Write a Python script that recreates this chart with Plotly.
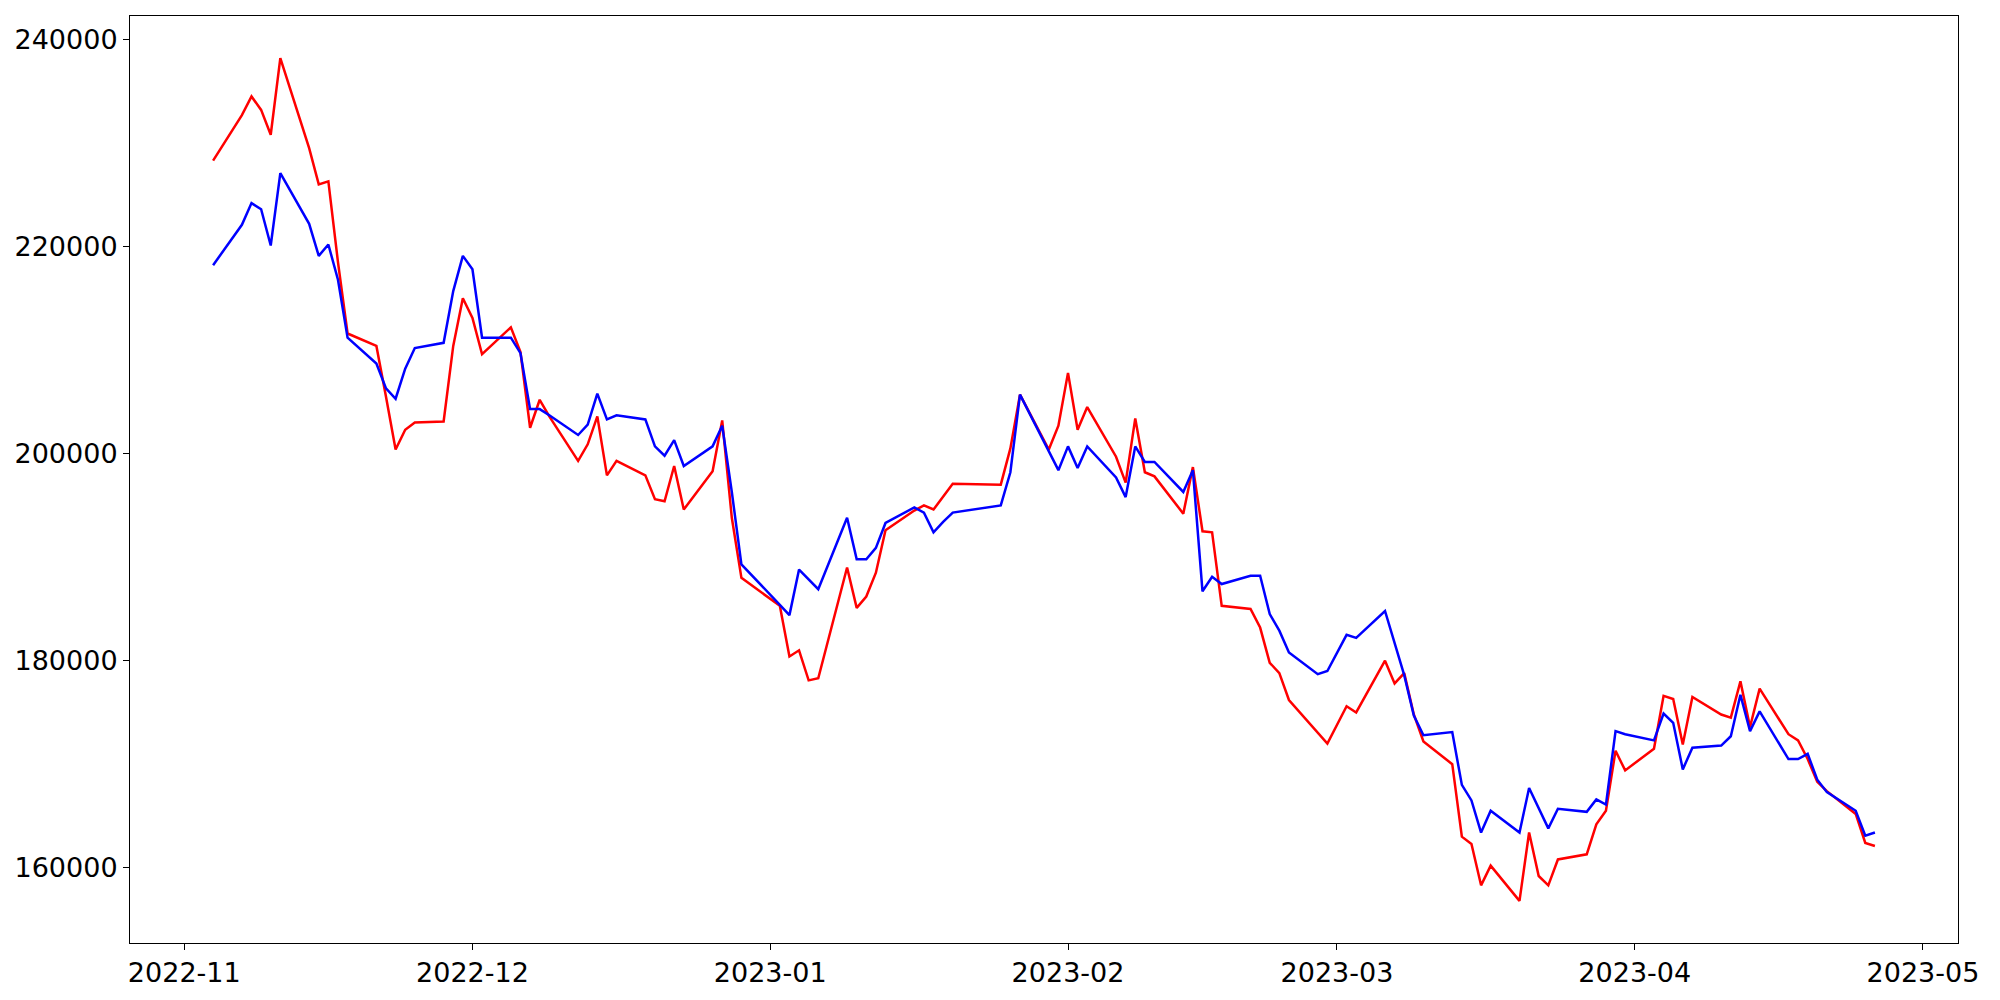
import plotly.graph_objects as go
import pandas as pd

# trading days (weekends / holidays skipped)
dates = [
    "2022-11-04", "2022-11-07", "2022-11-08", "2022-11-09", "2022-11-10", "2022-11-11",
    "2022-11-14", "2022-11-15", "2022-11-16", "2022-11-17", "2022-11-18",
    "2022-11-21", "2022-11-22", "2022-11-23", "2022-11-24", "2022-11-25",
    "2022-11-28", "2022-11-29", "2022-11-30", "2022-12-01", "2022-12-02",
    "2022-12-05", "2022-12-06", "2022-12-07", "2022-12-08", "2022-12-09",
    "2022-12-12", "2022-12-13", "2022-12-14", "2022-12-15", "2022-12-16",
    "2022-12-19", "2022-12-20", "2022-12-21", "2022-12-22", "2022-12-23",
    "2022-12-26", "2022-12-27", "2022-12-28", "2022-12-29",
    "2023-01-02", "2023-01-03", "2023-01-04", "2023-01-05", "2023-01-06",
    "2023-01-09", "2023-01-10", "2023-01-11", "2023-01-12", "2023-01-13",
    "2023-01-16", "2023-01-17", "2023-01-18", "2023-01-19", "2023-01-20",
    "2023-01-25", "2023-01-26", "2023-01-27",
    "2023-01-30", "2023-01-31", "2023-02-01", "2023-02-02", "2023-02-03",
    "2023-02-06", "2023-02-07", "2023-02-08", "2023-02-09", "2023-02-10",
    "2023-02-13", "2023-02-14", "2023-02-15", "2023-02-16", "2023-02-17",
    "2023-02-20", "2023-02-21", "2023-02-22", "2023-02-23", "2023-02-24",
    "2023-02-27", "2023-02-28", "2023-03-02", "2023-03-03",
    "2023-03-06", "2023-03-07", "2023-03-08", "2023-03-09", "2023-03-10",
    "2023-03-13", "2023-03-14", "2023-03-15", "2023-03-16", "2023-03-17",
    "2023-03-20", "2023-03-21", "2023-03-22", "2023-03-23", "2023-03-24",
    "2023-03-27", "2023-03-28", "2023-03-29", "2023-03-30", "2023-03-31",
    "2023-04-03", "2023-04-04", "2023-04-05", "2023-04-06", "2023-04-07",
    "2023-04-10", "2023-04-11", "2023-04-12", "2023-04-13", "2023-04-14",
    "2023-04-17", "2023-04-18", "2023-04-19", "2023-04-20", "2023-04-21",
    "2023-04-24", "2023-04-25", "2023-04-26",
]

red_values = [
    228300, 232700, 234500, 233200, 230800, 238200,
    229500, 226000, 226300, 218500, 211600,
    210400, 205500, 200400, 202300, 203000,
    203100, 210400, 215000, 213100, 209600,
    212200, 209800, 202500, 205200, 203600,
    199300, 200900, 203600, 197900, 199300,
    197900, 195600, 195400, 198800, 194600,
    198300, 203200, 193800, 188000,
    185300, 180400, 181000, 178100, 178300,
    189000, 185100, 186200, 188500, 192600,
    194500, 195000, 194600, 195900, 197100,
    197000, 200500, 205700,
    200400, 202700, 207800, 202300, 204500,
    199700, 197200, 203400, 198200, 197800,
    194200, 198700, 192500, 192400, 185300,
    185000, 183200, 179800, 178800, 176200,
    173000, 172000, 175600, 175000,
    180000, 177800, 178800, 174800, 172200,
    170000, 163000, 162300, 158300, 160200,
    156800, 163400, 159200, 158300, 160800,
    161300, 164200, 165500, 171300, 169400,
    171500, 176600, 176300, 171900, 176500,
    174800, 174500, 178000, 173600, 177300,
    172900, 172300, 170500, 168300, 167400,
    165200, 162400, 162100,
]

blue_values = [
    218200, 222100, 224200, 223600, 220100, 227100,
    222200, 219100, 220200, 216800, 211200,
    208700, 206300, 205300, 208200, 210200,
    210700, 215700, 219100, 217800, 211200,
    211200, 209700, 204300, 204300, 203700,
    201800, 202800, 205800, 203300, 203700,
    203300, 200700, 199800, 201300, 198800,
    200700, 202700, 196300, 189300,
    185400, 184400, 188800, 187800, 186900,
    193800, 189800, 189800, 190900, 193300,
    194800, 194300, 192400, 193400, 194300,
    195000, 198200, 205700,
    200200, 198400, 200700, 198600, 200700,
    197700, 195800, 200700, 199200, 199200,
    196300, 198400, 186700, 188100, 187400,
    188200, 188200, 184500, 182900, 180800,
    178700, 179000, 182500, 182200,
    184800, 181600, 178600, 174700, 172800,
    173100, 168000, 166500, 163400, 165500,
    163400, 167700, 165700, 163800, 165700,
    165400, 166600, 166100, 173200, 172900,
    172300, 174900, 174000, 169500, 171600,
    171800, 172700, 176700, 173200, 175100,
    170500, 170500, 171000, 168500, 167300,
    165500, 163100, 163400,
]

x = pd.to_datetime(dates)

fig = go.Figure()
fig.add_trace(go.Scatter(x=x, y=red_values, mode="lines",
                         line=dict(color="red", width=2.5), hoverinfo="x+y"))
fig.add_trace(go.Scatter(x=x, y=blue_values, mode="lines",
                         line=dict(color="blue", width=2.5), hoverinfo="x+y"))

# matplotlib-like 5% padding around the data
span = x.max() - x.min()
x_range = [x.min() - span * 0.05, x.max() + span * 0.05]
lo = min(min(red_values), min(blue_values))
hi = max(max(red_values), max(blue_values))
pad = (hi - lo) * 0.05

axis_style = dict(showline=True, mirror=True, linecolor="black", linewidth=1,
                  showgrid=False, zeroline=False, ticks="outside", ticklen=6,
                  tickcolor="black", tickwidth=1)

fig.update_layout(
    width=2000, height=1000,
    margin=dict(l=130, r=42, t=16, b=48),
    paper_bgcolor="white", plot_bgcolor="white",
    showlegend=False,
    font=dict(family="DejaVu Sans", size=27, color="black"),
    xaxis=dict(range=x_range, tick0="2022-11-01", dtick="M1",
               tickformat="%Y-%m", **axis_style),
    yaxis=dict(range=[lo - pad, hi + pad], tick0=0, dtick=20000,
               tickformat="d", **axis_style),
)

fig.write_html("out.html", config={"displayModeBar": False},
               post_script="document.body.style.margin='0';")
